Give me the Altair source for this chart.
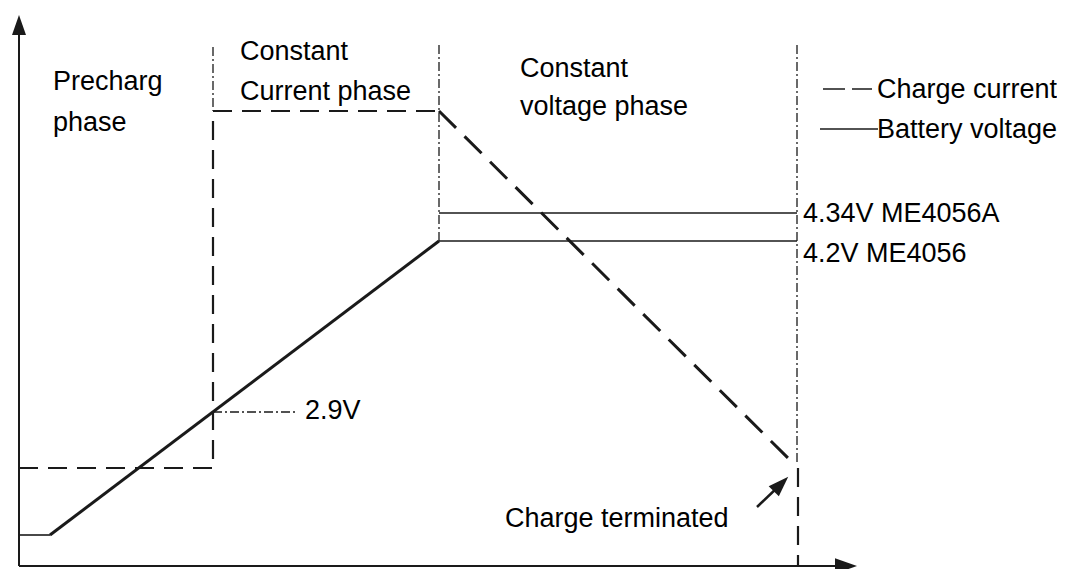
import altair as alt
import pandas as pd

# Coordinate frame of the schematic: t = time (to the right), v = level (upwards),
# origin at the corner of the two axes.
T_DOMAIN = [-11, 1038]
V_DOMAIN = [-3, 558]

# Axes
axis_t = [0, 0, 0, 830]
axis_v = [535, 0, 0, 0]
axis_id = ["y", "y", "x", "x"]

# Charge current (dashed): precharge + constant current steps
cur_steps_t = [0, 194, 194, 420]
cur_steps_v = [98, 98, 455, 455]
# Charge current: constant voltage taper
cur_taper_t = [420, 776]
cur_taper_v = [455, 101]
# Charge current: termination drop
cur_drop_t = [779, 779]
cur_drop_v = [98, 0]

# Battery voltage (solid)
vflat1_t = [0, 31]
vflat1_v = [31, 31]
vramp_t = [31, 420]
vramp_v = [31, 325]
vflat2_t = [420, 778]
vflat2_v = [325, 325]

# 4.34V level
v434_t = [420, 778]
v434_v = [353, 353]

# Phase boundaries + 2.9V marker (dash-dot)
dd_t = [194, 194, 420, 420, 778, 778, 194, 276]
dd_v = [519, 455, 521, 325, 521, 101, 154, 154]
dd_id = ["b1", "b1", "b2", "b2", "b3", "b3", "m29", "m29"]

# Legend samples
leg_dash_t = [804, 853]
leg_dash_v = [477, 477]
leg_solid_t = [801, 859]
leg_solid_v = [437, 437]

# "Charge terminated" pointer
ptr_t = [738, 761]
ptr_v = [59, 81]

# Labels
labels = ["Precharg", "phase", "Constant", "Current phase", "Constant",
          "voltage phase", "Charge current", "Battery voltage",
          "4.34V ME4056A", "4.2V ME4056", "2.9V", "Charge terminated"]
label_t = [34, 34, 221, 221, 501, 501, 858, 858, 784, 784, 286, 486]
label_v = [476, 435, 506, 466, 489, 451, 468, 428, 344, 304, 147, 39]

INK = "#1a1a1a"
xs = alt.Scale(domain=T_DOMAIN, nice=False, zero=False)
ys = alt.Scale(domain=V_DOMAIN, nice=False, zero=False)


def seq(t, v, ids=None):
    ids = ids if ids is not None else ["a"] * len(t)
    return pd.DataFrame({"t": t, "v": v, "id": ids, "o": list(range(len(t)))})


def line_layer(df, width, dash=None):
    kw = dict(color=INK, strokeWidth=width, clip=False, strokeCap="butt")
    if dash:
        kw["strokeDash"] = dash
    return alt.Chart(df).mark_line(**kw).encode(
        x=alt.X("t:Q", scale=xs, axis=None),
        y=alt.Y("v:Q", scale=ys, axis=None),
        detail="id:N",
        order="o:Q",
    )


layers = [
    line_layer(seq(axis_t, axis_v, axis_id), 2),
    line_layer(seq(cur_steps_t, cur_steps_v), 2.2, [19, 10]),
    line_layer(seq(cur_taper_t, cur_taper_v), 3, [24, 12]),
    line_layer(seq(cur_drop_t, cur_drop_v), 2.2, [19, 10]),
    line_layer(seq(vflat1_t, vflat1_v), 1.6),
    line_layer(seq(vramp_t, vramp_v), 3),
    line_layer(seq(vflat2_t, vflat2_v), 1.6),
    line_layer(seq(v434_t, v434_v), 1.6),
    line_layer(seq(dd_t, dd_v, dd_id), 1.3, [9, 3, 2, 3]),
    line_layer(seq(leg_dash_t, leg_dash_v), 1.3, [22, 7]),
    line_layer(seq(leg_solid_t, leg_solid_v), 1.6),
    line_layer(seq(ptr_t, ptr_v), 2.5),
]

heads = pd.DataFrame({
    "t": [0, 827, 762],
    "v": [541, 0, 82],
    "shape": ["M0,-1L0.7,1L-0.7,1Z", "M1,0L-1,-0.7L-1,0.7Z", "M0,-1L0.7,1L-0.7,1Z"],
    "ang": [0, 0, 45],
    "sz": [400, 484, 420],
})
head_layer = alt.Chart(heads).mark_point(filled=True, color=INK, opacity=1, clip=False).encode(
    x=alt.X("t:Q", scale=xs, axis=None),
    y=alt.Y("v:Q", scale=ys, axis=None),
    shape=alt.Shape("shape:N", scale=None),
    angle=alt.Angle("ang:Q", scale=None),
    size=alt.Size("sz:Q", scale=None),
)

text_df = pd.DataFrame({"label": labels, "t": label_t, "v": label_v})
text_layer = alt.Chart(text_df).mark_text(
    align="left", baseline="alphabetic", font="Liberation Sans", fontSize=27, color="#000"
).encode(
    x=alt.X("t:Q", scale=xs, axis=None),
    y=alt.Y("v:Q", scale=ys, axis=None),
    text="label:N",
)

chart = alt.layer(*layers, head_layer, text_layer).properties(
    width=1049, height=561, padding=0, autosize=alt.AutoSizeParams(type="none")
).configure_view(stroke=None, strokeWidth=0)

chart.save("out.html", embed_options={"renderer": "svg", "actions": False})
